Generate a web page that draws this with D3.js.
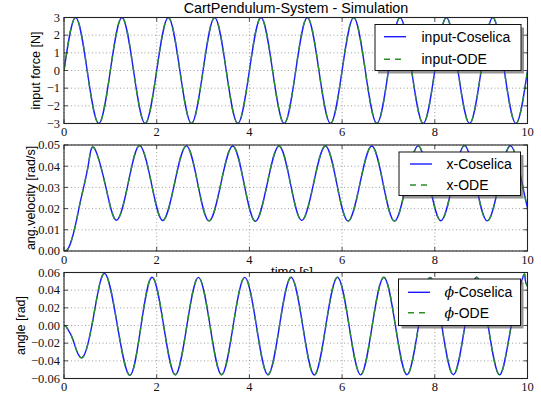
<!DOCTYPE html>
<html>
<head>
<meta charset="utf-8">
<script src="https://cdn.jsdelivr.net/npm/d3@7"></script>
<style>
body { margin: 0; background: #fff; }
text { font-family: "Liberation Sans", Arial, sans-serif; }
text.tick-label { font-family: "Liberation Serif", "DejaVu Serif", serif; font-size: 12.5px; fill: #111; }
</style>
</head>
<body>
<svg id="chart" width="541" height="396"></svg>
<script>
// tick values
var timeTicks = [0, 2, 4, 6, 8, 10];
var forceTicks = [-3, -2, -1, 0, 1, 2, 3];
var velTicks = [0, 0.01, 0.02, 0.03, 0.04, 0.05];
var angleTicks = [-0.06, -0.04, -0.02, 0, 0.02, 0.04, 0.06];

// input force, read at quarter periods
var forceT = [0, 0.25, 0.5, 0.75, 1, 1.25, 1.5, 1.75, 2, 2.25, 2.5, 2.75, 3, 3.25, 3.5, 3.75,
    4, 4.25, 4.5, 4.75, 5, 5.25, 5.5, 5.75, 6, 6.25, 6.5, 6.75, 7, 7.25, 7.5, 7.75,
    8, 8.25, 8.5, 8.75, 9, 9.25, 9.5, 9.75, 10];
var forceV = [0, 3, 0, -3, 0, 3, 0, -3, 0, 3, 0, -3, 0, 3, 0, -3,
    0, 3, 0, -3, 0, 3, 0, -3, 0, 3, 0, -3, 0, 3, 0, -3,
    0, 3, 0, -3, 0, 3, 0, -3, 0];

// ang. velocity
var velT = [0, 0.1, 0.23, 0.36, 0.52, 0.64,
    0.885, 1.13, 1.385, 1.63, 1.885, 2.13, 2.385, 2.64, 2.885, 3.13, 3.385, 3.64,
    3.885, 4.13, 4.385, 4.64, 4.885, 5.13, 5.385, 5.64, 5.885, 6.13, 6.385, 6.64,
    6.885, 7.13, 7.385, 7.64, 7.885, 8.13, 8.385, 8.64, 8.885, 9.13, 9.385, 9.64,
    9.885, 10];
var velV = [0, 0.0015, 0.0106, 0.024, 0.040, 0.0489,
    0.0318, 0.0145, 0.0320, 0.0497, 0.0320, 0.0144, 0.0319, 0.0496, 0.0318, 0.0142, 0.0318, 0.0495,
    0.0318, 0.0140, 0.0318, 0.0495, 0.0319, 0.0144, 0.0319, 0.0495, 0.0318, 0.0141, 0.0318, 0.0495,
    0.0318, 0.0141, 0.0318, 0.0496, 0.0319, 0.0143, 0.0319, 0.0497, 0.0320, 0.0142, 0.0319, 0.0496,
    0.0318, 0.0203];

// angle phi
var phiT = [0, 0.05, 0.1, 0.2, 0.4, 0.64, 0.88,
    1.15, 1.42, 1.66, 1.9, 2.15, 2.4, 2.65, 2.9, 3.15, 3.4, 3.65, 3.9,
    4.15, 4.4, 4.65, 4.9, 5.15, 5.4, 5.65, 5.9, 6.15, 6.4, 6.65, 6.9,
    7.15, 7.4, 7.65, 7.9, 8.15, 8.4, 8.65, 8.9, 9.15, 9.4, 9.65, 9.9, 9.95, 10];
var phiV = [0, -0.0015, -0.006, -0.017, -0.0361, 0.011, 0.059,
    0.0005, -0.0563, -0.0008, 0.0547, 0, -0.0558, -0.0005, 0.0545, 0, -0.0557, 0, 0.0545,
    0, -0.0558, 0, 0.0546, 0, -0.0560, 0, 0.0547, 0, -0.0559, 0, 0.0546,
    0, -0.0557, 0, 0.0545, 0, -0.0558, 0, 0.0546, 0, -0.0559, 0, 0.0546, 0.0521, 0.0442];

var svg = d3.select('#chart');
var x = d3.scaleLinear().domain([0, 10]).range([64, 527.5]);
var h = 106;

var panels = [
    {top: 17.5, domain: [-3, 3], ticks: forceTicks, fmt: d3.format('d'),
     label: 'input force [N]', labelX: 35, t: forceT, v: forceV, prefix: 'input',
     legend: {x: 375, y: 24.5, w: 146, h: 46, lx: 384, tx: 421.5, rows: [36.7, 59.3]}},
    {top: 145, domain: [0, 0.05], ticks: velTicks, fmt: d3.format('.2f'),
     label: 'ang.velocity [rad/s]', labelX: 30, t: velT, v: velV, prefix: 'x',
     legend: {x: 399, y: 152, w: 121.5, h: 43.5, lx: 410, tx: 446.5, rows: [164, 185]}},
    {top: 272.5, domain: [-0.06, 0.06], ticks: angleTicks, fmt: d3.format('.2f'),
     label: 'angle [rad]', labelX: 20, t: phiT, v: phiV, prefix: 'phi',
     legend: {x: 398.5, y: 279, w: 122, h: 46.5, lx: 408, tx: 444.5, rows: [292.3, 312.7]}}
];

svg.append('text')
    .attr('x', 296).attr('y', 13)
    .attr('text-anchor', 'middle')
    .style('font-size', '14.4px')
    .text('CartPendulum-System - Simulation');

panels.forEach(function(p, i) {
    var y = d3.scaleLinear().domain(p.domain).range([p.top + h, p.top]);
    var g = svg.append('g');
    var x0 = x.range()[0], x1 = x.range()[1];

    g.append('rect')
        .attr('x', x0).attr('y', p.top)
        .attr('width', x1 - x0).attr('height', h)
        .attr('fill', '#fff');

    g.append('clipPath').attr('id', 'clip' + i)
        .append('rect')
        .attr('x', x0).attr('y', p.top)
        .attr('width', x1 - x0).attr('height', h);

    // grid
    g.selectAll('line.gx').data(timeTicks).enter().append('line')
        .attr('x1', x).attr('x2', x)
        .attr('y1', p.top).attr('y2', p.top + h)
        .attr('stroke', '#777').attr('stroke-width', 0.7)
        .attr('stroke-dasharray', '1,2.5');
    g.selectAll('line.gy').data(p.ticks).enter().append('line')
        .attr('x1', x0).attr('x2', x1)
        .attr('y1', y).attr('y2', y)
        .attr('stroke', '#777').attr('stroke-width', 0.7)
        .attr('stroke-dasharray', '1,2.5');

    // curves
    var pts = p.t.map(function(t, k) { return [t, p.v[k]]; });
    var line = d3.line()
        .x(function(d) { return x(d[0]); })
        .y(function(d) { return y(d[1]); })
        .curve(d3.curveNatural);
    var lines = g.append('g').attr('clip-path', 'url(#clip' + i + ')');
    lines.append('path').datum(pts)
        .attr('d', line).attr('fill', 'none')
        .attr('stroke', '#1a1aff').attr('stroke-width', 1.4);
    lines.append('path').datum(pts)
        .attr('d', line).attr('fill', 'none')
        .attr('stroke', '#2a8f2a').attr('stroke-width', 1.4)
        .attr('stroke-dasharray', '6,6');

    // ticks inward on all sides
    var tk = g.append('g').attr('stroke', '#222').attr('stroke-width', 0.8);
    timeTicks.forEach(function(t) {
        tk.append('line').attr('x1', x(t)).attr('x2', x(t)).attr('y1', p.top + h).attr('y2', p.top + h - 4);
        tk.append('line').attr('x1', x(t)).attr('x2', x(t)).attr('y1', p.top).attr('y2', p.top + 4);
    });
    p.ticks.forEach(function(v) {
        tk.append('line').attr('x1', x0).attr('x2', x0 + 4).attr('y1', y(v)).attr('y2', y(v));
        tk.append('line').attr('x1', x1).attr('x2', x1 - 4).attr('y1', y(v)).attr('y2', y(v));
    });

    g.append('rect')
        .attr('x', x0).attr('y', p.top)
        .attr('width', x1 - x0).attr('height', h)
        .attr('fill', 'none').attr('stroke', '#222').attr('stroke-width', 1.1);

    // tick labels
    g.selectAll('text.xt').data(timeTicks).enter().append('text')
        .attr('class', 'tick-label')
        .attr('x', x).attr('y', p.top + h + 12.5)
        .attr('text-anchor', 'middle')
        .text(function(d) { return d; });
    g.selectAll('text.yt').data(p.ticks).enter().append('text')
        .attr('class', 'tick-label')
        .attr('x', x0 - 4).attr('y', function(d) { return y(d) + 4.3; })
        .attr('text-anchor', 'end')
        .text(p.fmt);

    g.append('text')
        .attr('transform', 'translate(' + (p.labelX + 4.5) + ',' + (p.top + h / 2) + ') rotate(-90)')
        .attr('text-anchor', 'middle')
        .style('font-size', '12.5px')
        .text(p.label);

    // legend
    var L = p.legend;
    var lg = g.append('g');
    lg.append('rect').attr('x', L.x + 3).attr('y', L.y + 3).attr('width', L.w).attr('height', L.h)
        .attr('fill', '#4d4d4d').attr('opacity', 0.6);
    lg.append('rect').attr('x', L.x).attr('y', L.y).attr('width', L.w).attr('height', L.h)
        .attr('fill', '#fff').attr('stroke', '#111').attr('stroke-width', 1);
    var styles = [{c: '#1a1aff', dash: null, name: 'Coselica'}, {c: '#2a8f2a', dash: '6,5', name: 'ODE'}];
    styles.forEach(function(s, k) {
        lg.append('line')
            .attr('x1', L.lx).attr('x2', L.lx + 22)
            .attr('y1', L.rows[k]).attr('y2', L.rows[k])
            .attr('stroke', s.c).attr('stroke-width', 1.4)
            .attr('stroke-dasharray', s.dash);
        var tx = lg.append('text')
            .attr('x', L.tx).attr('y', L.rows[k] + 5)
            .style('font-size', '14px');
        if (p.prefix === 'phi') {
            tx.append('tspan')
                .style('font-family', '"DejaVu Serif", serif')
                .style('font-style', 'italic')
                .text('\u03d5');
            tx.append('tspan').text('-' + s.name);
        } else {
            tx.text(p.prefix + '-' + s.name);
        }
    });

    if (i === 1) {
        svg.append('text')
            .attr('x', 292).attr('y', 276)
            .attr('text-anchor', 'middle')
            .style('font-size', '13px')
            .text('time [s]');
    }
});
</script>
</body>
</html>
